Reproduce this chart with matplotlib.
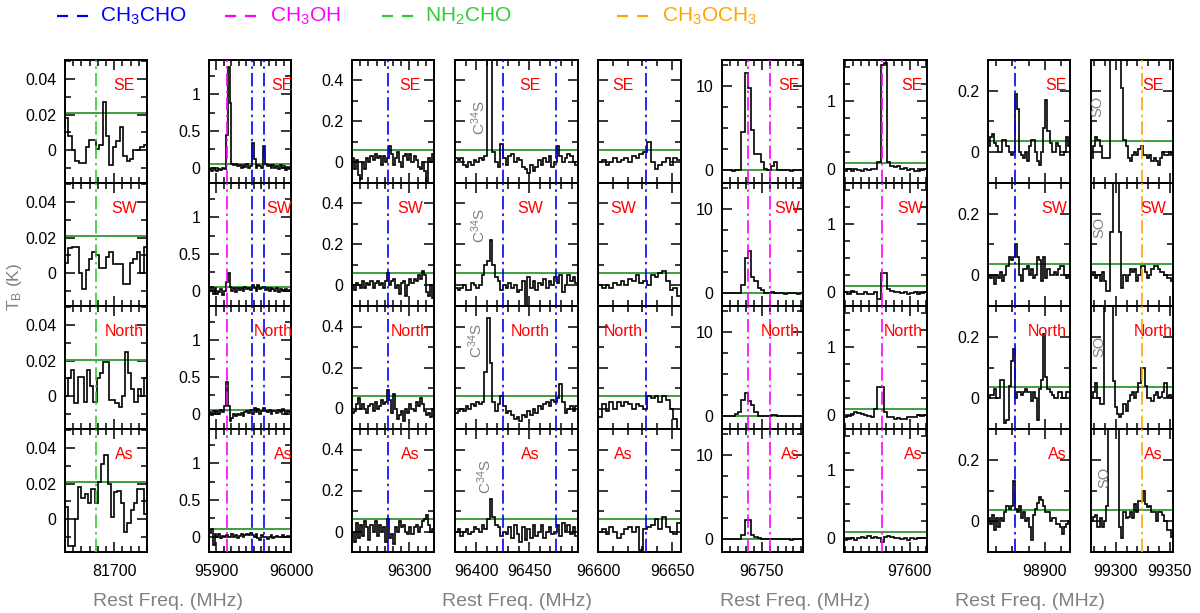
import numpy as np
import matplotlib
matplotlib.use("Agg")
import matplotlib.pyplot as plt
from matplotlib.ticker import MultipleLocator, FuncFormatter
from matplotlib.lines import Line2D

plt.rcParams['font.family'] = ['Liberation Sans', 'DejaVu Sans']
plt.rcParams['mathtext.fontset'] = 'custom'
plt.rcParams['mathtext.rm'] = 'Liberation Sans'
plt.rcParams['mathtext.it'] = 'Liberation Sans:italic'

regiones = ['SE', 'SW', 'North', 'As']

# ventanas de frecuencia (MHz) de cada columna
rango_x = [(81685, 81710), (95890, 96000), (96230, 96330), (96380, 96496),
           (96600, 96656), (96725, 96776), (97559.5, 97610.5),
           (98830, 98931), (99277, 99353)]
rango_y = [(-0.0183, 0.0506), (-0.21, 1.47), (-0.1, 0.5), (-0.1, 0.5),
           (-0.1, 0.5), (-1.5, 13.1), (-0.2, 1.6), (-0.1, 0.3), (-0.1, 0.3)]
mayor_x = [25, 100, 100, 50, 50, 50, 50, 100, 50]
menor_x = [2.5, 10, 10, 10, 10, 5, 5, 20, 10]
mayor_y = [0.02, 0.5, 0.2, 0.2, 0.2, 10, 1, 0.2, 0.2]
menor_y = [0.01, 0.25, 0.1, 0.1, 0.1, 2.5, 0.25, 0.1, 0.1]
con_etiqueta_y = [True, True, True, False, False, True, True, True, False]

# nivel de ruido (linea verde) por columna y region
rms = [[0.021, 0.021, 0.0205, 0.021],
       [0.046, 0.054, 0.045, 0.098],
       [0.062, 0.062, 0.062, 0.061],
       [0.062, 0.062, 0.062, 0.062],
       [0.062, 0.062, 0.062, 0.062],
       [0.05, 0.05, 0.05, 0.05],
       [0.096, 0.087, 0.097, 0.09],
       [0.036, 0.036, 0.036, 0.036],
       [0.036, 0.036, 0.036, 0.036]]

# lineas moleculares marcadas (MHz, especie)
lineas = [[(81694.5, 'NH2CHO')],
          [(95914.3, 'CH3OH'), (95947.4, 'CH3CHO'), (95963.5, 'CH3CHO')],
          [(96274.3, 'CH3CHO')],
          [(96425.6, 'CH3CHO'), (96475.5, 'CH3CHO')],
          [(96632.7, 'CH3CHO')],
          [(96741.4, 'CH3OH'), (96755.5, 'CH3OH')],
          [(97582.8, 'CH3OH')],
          [(98863.3, 'CH3CHO')],
          [(99324.4, 'CH3OCH3')]]

colores = {'CH3CHO': '#0000ff', 'CH3OH': '#ff00ff',
           'NH2CHO': '#33cc33', 'CH3OCH3': '#ffa500'}

# espectros (K), filas SE, SW, North, As
t_81700 = [
    [0.018, 0.008, 0.0, -0.006, -0.007, -0.007, 0.002, 0.006, 0.006, 0.001, 0.003, 0.027,
     0.008, -0.008, 0.002, 0.005, 0.013, -0.003, -0.006, -0.005, 0.0, 0.0, 0.002, 0.003],
    [0.006, 0.014, 0.015, 0.015, 0.0, -0.009, 0.002, 0.008, 0.012, 0.010, 0.003, 0.003,
     0.009, 0.012, 0.005, 0.005, 0.005, -0.006, -0.006, 0.006, 0.008, 0.012, 0.0, 0.015],
    [0.0, 0.01, 0.015, -0.004, 0.011, 0.011, -0.003, 0.015, 0.006, -0.003, 0.01, 0.013, 0.019,
     0.019, -0.002, -0.002, -0.004, -0.006, 0.0, 0.025, 0.013, 0.004, -0.003, 0.004, 0.0, 0.01],
    [0.007, -0.015, -0.015, 0.0, 0.018, 0.012, 0.014, 0.009, 0.017, 0.009, 0.021, 0.031, 0.036,
     0.02, 0.0015, 0.0155, 0.016, 0.009, -0.007, -0.002, 0.005, 0.009, 0.017, 0.017, 0.003]]

t_95950 = [
    [-0.02, -0.04, 0.0, -0.03, -0.05, -0.02, -0.03, 0.0, -0.02, 0.45, 1.37, 0.88, 0.05, 0.03,
     0.05, 0.02, 0.04, 0.0, 0.03, 0.01, 0.05, 0.0, 0.02, 0.33, 0.12, 0.0, 0.04, 0.02, 0.0, 0.3,
     0.05, 0.02, 0.04, -0.01, 0.03, 0.0, 0.02, -0.02, 0.03, -0.01, 0.02, -0.03, 0.01, -0.02],
    [0.0, 0.05, -0.05, 0.03, -0.04, -0.02, 0.02, -0.06, 0.0, 0.12, 0.24, 0.05, 0.0, 0.03,
     -0.02, 0.04, 0.01, 0.03, 0.0, 0.05, 0.02, 0.04, 0.01, 0.07, 0.03, 0.0, 0.08, 0.02, 0.04,
     0.05, 0.01, 0.03, -0.01, 0.04, 0.02, 0.0, 0.03, -0.02, 0.02, 0.01, -0.01, 0.02, 0.0, 0.01],
    [0.02, -0.02, 0.03, 0.0, 0.04, 0.0, 0.05, 0.02, 0.1, 0.43, 0.1, -0.1, -0.06, 0.0, -0.03,
     0.0, -0.02, 0.01, -0.03, 0.02, 0.04, 0.01, 0.05, 0.0, 0.08, 0.02, 0.06, 0.0, 0.03, 0.08,
     0.04, 0.02, 0.05, 0.0, 0.03, 0.04, 0.01, 0.05, 0.02, 0.06, 0.03, 0.0, 0.04, 0.02],
    [0.05, 0.1, -0.12, 0.04, 0.0, 0.03, -0.02, 0.01, 0.0, 0.02, 0.0, -0.01, 0.03, 0.0, 0.02,
     -0.02, 0.01, 0.03, 0.0, 0.02, 0.04, 0.02, 0.05, 0.02, 0.0, 0.03, -0.02, -0.04, 0.02, 0.0,
     -0.01, -0.03, 0.0, 0.02, -0.02, 0.0, 0.01, -0.01, 0.0, 0.02, -0.01, 0.0, 0.01, 0.0]]

t_96280 = [
    [0.02, -0.03, 0.01, -0.06, -0.08, 0.0, -0.03, 0.02, 0.0, 0.03, 0.01, 0.04, 0.02, 0.03,
     -0.01, 0.03, 0.0, 0.02, 0.08, 0.04, -0.01, 0.02, 0.05, 0.0, -0.02, 0.03, 0.04, 0.01, 0.04,
     0.0, 0.03, 0.01, -0.02, -0.03, 0.0, -0.04, -0.09, 0.02, 0.0, 0.04],
    [0.0, -0.02, 0.01, 0.0, -0.01, 0.02, -0.01, 0.01, 0.0, 0.02, -0.01, 0.01, 0.02, 0.0, 0.01,
     -0.01, 0.02, 0.06, 0.0, 0.02, 0.03, -0.01, 0.0, -0.04, 0.01, 0.02, -0.05, 0.0, 0.03, 0.01,
     0.03, 0.02, 0.05, 0.03, 0.07, 0.05, -0.03, -0.05, 0.0, -0.06],
    [-0.02, -0.01, 0.02, 0.05, 0.0, 0.02, 0.0, -0.02, 0.01, 0.02, -0.01, 0.03, 0.0, 0.01, 0.04,
     0.02, 0.03, 0.09, 0.04, -0.02, 0.07, 0.0, -0.05, -0.03, -0.01, -0.06, 0.0, -0.02, 0.02,
     0.0, -0.01, 0.03, 0.01, 0.05, 0.02, -0.01, -0.03, -0.02, -0.04, 0.0],
    [0.0, -0.05, 0.04, -0.03, 0.03, -0.02, 0.05, 0.02, -0.04, 0.03, 0.0, 0.05, -0.02, 0.03, 0.0,
     0.02, -0.05, 0.06, -0.03, -0.01, -0.06, 0.02, 0.0, 0.05, 0.02, 0.03, 0.0, -0.01, 0.02,
     -0.01, 0.02, 0.03, 0.0, 0.02, 0.05, 0.06, 0.08, 0.03, 0.0, 0.01]]

t_96440 = [
    [0.02, 0.01, 0.02, -0.01, -0.02, 0.0, -0.01, 0.01, 0.0, 0.02, 0.01, 0.03, 0.8, 1.2, 0.05,
     0.0, -0.02, 0.09, 0.02, -0.01, 0.03, 0.04, 0.0, 0.02, 0.01, -0.02, -0.03, -0.05, -0.01,
     -0.04, -0.02, 0.01, -0.01, 0.02, 0.0, 0.03, -0.02, 0.0, 0.08, 0.03, 0.0, 0.02, 0.04, 0.03,
     0.0, -0.01],
    [-0.01, -0.02, -0.01, 0.0, -0.02, -0.02, 0.01, 0.0, -0.01, 0.0, 0.05, 0.1, 0.12, 0.22, 0.1,
     0.04, 0.02, -0.02, 0.0, -0.01, 0.01, -0.01, 0.0, -0.03, -0.02, 0.02, -0.1, 0.04, -0.01,
     0.02, -0.02, 0.01, 0.0, 0.03, -0.01, 0.02, 0.0, 0.04, 0.01, 0.05, -0.03, 0.0, 0.05, 0.02,
     0.04, 0.01],
    [-0.02, -0.01, 0.0, -0.01, 0.01, 0.0, 0.02, 0.01, 0.03, 0.02, 0.03, 0.18, 0.44, 0.22, 0.03,
     -0.01, 0.02, 0.06, 0.01, -0.02, -0.01, -0.03, -0.05, -0.04, -0.06, -0.03, -0.04, -0.01,
     -0.03, 0.0, -0.02, 0.01, 0.0, 0.02, 0.03, 0.01, 0.04, 0.03, 0.05, 0.12, 0.03, -0.02, 0.0,
     0.01, -0.01, 0.01],
    [0.0, 0.01, -0.02, 0.0, 0.01, -0.01, 0.0, 0.02, 0.01, 0.0, 0.03, 0.01, 0.06, 0.16, 0.07,
     0.03, 0.02, -0.02, 0.0, -0.01, 0.02, -0.03, 0.03, -0.01, -0.05, 0.02, -0.04, 0.01, -0.03,
     0.03, -0.02, 0.0, 0.03, -0.03, 0.0, 0.02, -0.01, 0.0, 0.03, -0.02, 0.04, 0.0, 0.03, -0.01,
     0.02, -0.02]]

t_96630 = [
    [0.0, 0.01, -0.01, 0.0, 0.02, 0.0, 0.01, 0.02, 0.0, 0.03, 0.02, 0.04, 0.05, 0.1, 0.0,
     -0.03, -0.01, 0.0, 0.02, -0.01, 0.02, 0.01],
    [0.0, -0.01, 0.0, -0.01, 0.01, 0.0, 0.02, 0.0, 0.03, 0.02, 0.05, 0.01, 0.02, 0.0, 0.05,
     0.04, 0.06, 0.07, 0.02, -0.02, -0.01, -0.05],
    [-0.04, 0.02, -0.01, 0.03, 0.0, 0.03, 0.01, 0.03, 0.02, 0.0, 0.02, 0.01, 0.0, 0.06, 0.05,
     0.06, 0.03, 0.06, 0.04, 0.0, -0.05, -0.1],
    [0.0, 0.01, -0.01, 0.02, 0.0, -0.03, -0.01, 0.01, 0.02, 0.0, 0.02, -0.09, 0.01, 0.02, 0.03,
     0.06, 0.01, 0.07, 0.02, 0.0, -0.01, 0.04]]

t_96750 = [
    [0.0, 0.0, 0.05, -0.05, 0.0, 0.02, 4.6, 11.5, 9.8, 4.8, 2.0, 2.0, 1.0, 0.2, 0.0, 0.5, 1.0,
     0.1, 0.0, 0.05, 0.0, -0.05, 0.0, 0.0, 0.05],
    [0.0, 0.0, 0.0, 0.0, 0.0, 0.05, 1.0, 4.2, 5.0, 2.0, 1.5, 0.6, 0.4, 0.0, 0.1, 0.2, 0.1, 0.0,
     0.0, -0.05, 0.0, 0.0, 0.0, -0.05, 0.0],
    [0.0, 0.0, 0.0, 0.0, 0.3, 0.5, 2.0, 2.8, 1.8, 1.3, 0.5, 0.0, 0.1, 0.1, 0.1, 0.2, 0.2, 0.1,
     0.0, 0.0, 0.0, 0.0, 0.0, 0.0, 0.0],
    [0.0, 0.0, 0.0, 0.0, 0.0, 0.1, 0.5, 2.3, 2.3, 0.5, 0.3, 0.2, 0.1, 0.1, 0.0, 0.05, 0.0, 0.0,
     0.0, 0.0, 0.0, -0.02, 0.0, 0.0, 0.0]]

t_97580 = [
    [-0.02, 0.0, -0.02, 0.0, -0.01, -0.02, 0.0, -0.01, 0.0, 0.0, 0.1, 1.52, 1.55, 0.1, 0.05,
     0.03, 0.05, 0.0, 0.02, -0.01, 0.0, -0.03, -0.02, -0.01, 0.0],
    [0.0, -0.02, 0.02, 0.0, -0.03, -0.02, 0.0, -0.02, -0.03, 0.0, -0.1, 0.28, 0.28, 0.05, 0.02,
     0.01, 0.0, -0.01, 0.0, -0.02, -0.01, 0.0, -0.02, -0.01, 0.0],
    [-0.03, -0.01, 0.02, 0.05, 0.03, 0.02, 0.0, -0.01, -0.03, 0.1, 0.42, 0.42, 0.05, -0.02,
     -0.03, -0.05, -0.04, -0.06, -0.05, -0.03, -0.02, -0.03, 0.0, -0.01, 0.0],
    [-0.03, -0.01, 0.0, -0.02, 0.0, 0.02, 0.0, 0.03, 0.0, 0.02, 0.0, -0.06, 0.02, 0.03, 0.02,
     0.0, 0.01, -0.01, 0.0, -0.02, 0.0, -0.01, 0.0, 0.01, 0.0]]

t_98880 = [
    [0.02, 0.05, 0.06, 0.03, 0.02, 0.0, 0.0, 0.04, 0.04, 0.02, 0.0, -0.01, 0.0, 0.19, 0.14, 0.0,
     -0.01, -0.02, 0.0, -0.03, 0.02, 0.04, 0.04, 0.0, -0.03, -0.04, 0.0, 0.08, 0.17, 0.07, 0.03,
     0.0, 0.0, 0.03, 0.02, -0.01, -0.01, 0.0, 0.05, 0.02],
    [0.0, -0.01, 0.0, -0.03, 0.0, -0.01, 0.01, -0.02, 0.0, 0.03, 0.06, 0.05, 0.06, 0.1, 0.06,
     0.0, -0.02, 0.02, 0.02, 0.03, 0.0, 0.02, -0.01, 0.0, 0.06, 0.05, -0.02, 0.06, -0.01, 0.02,
     0.0, 0.0, 0.01, 0.0, 0.02, 0.03, 0.03, 0.0, -0.01, 0.0],
    [0.0, 0.01, 0.01, 0.03, 0.0, 0.0, 0.06, 0.06, -0.08, -0.07, 0.04, 0.12, 0.16, 0.0, 0.02,
     0.02, 0.01, 0.02, 0.03, 0.02, 0.02, -0.01, 0.02, 0.0, -0.07, 0.03, 0.06, 0.21, 0.07, 0.03,
     0.02, 0.01, 0.0, 0.0, 0.02, 0.02, 0.0, 0.0, 0.02, 0.02],
    [0.01, -0.01, 0.02, -0.03, 0.01, -0.02, 0.01, 0.0, 0.03, 0.05, 0.04, 0.05, 0.13, 0.04, 0.03,
     0.05, 0.01, 0.03, 0.0, 0.01, -0.02, -0.06, 0.02, 0.04, 0.06, 0.08, 0.07, 0.05, 0.03, 0.03,
     0.0, 0.01, 0.01, -0.01, -0.01, -0.02, -0.04, -0.02, -0.01, 0.0]]

t_99320 = [
    [-0.02, 0.02, 0.05, 0.04, 0.02, -0.02, -0.02, -0.02, -0.02, 0.6, 0.8, 0.9, 0.8, 0.5, 0.21,
     0.04, 0.02, -0.02, -0.03, -0.01, 0.0, -0.01, 0.01, 0.02, -0.01, -0.01, -0.02, -0.01, -0.03,
     -0.02, -0.03, -0.04, -0.02, 0.0, -0.01, -0.01, 0.0, -0.01],
    [0.0, 0.01, -0.01, 0.0, -0.02, 0.01, -0.02, -0.05, -0.05, 0.14, 0.5, 0.6, 0.5, 0.14, -0.04,
     0.0, -0.02, 0.0, 0.02, 0.01, 0.02, -0.02, 0.0, 0.03, 0.03, 0.01, -0.01, 0.0, 0.02, 0.03,
     0.03, 0.02, 0.01, 0.01, 0.0, -0.01, -0.01, -0.02],
    [0.0, 0.02, 0.05, 0.0, -0.02, -0.02, 0.5, 0.6, 0.7, 0.6, 0.055, -0.03, -0.05, -0.06, -0.05,
     -0.02, -0.04, -0.01, 0.01, 0.02, 0.0, 0.02, 0.05, 0.1, 0.1, 0.04, 0.0, 0.0, -0.01, 0.01,
     0.02, 0.0, 0.005, 0.02, 0.05, 0.005, 0.01, 0.0],
    [0.0, 0.015, 0.02, -0.02, 0.01, -0.02, 0.0, 0.05, 0.3, 0.7, 0.8, 0.6, 0.3, -0.02, -0.055,
     0.03, 0.01, 0.015, 0.03, 0.01, 0.055, 0.03, 0.065, 0.065, 0.1, 0.055, 0.045, 0.05, 0.03,
     0.03, 0.0, 0.03, 0.03, 0.02, 0.0, -0.03, -0.03, -0.05]]

espectros = [t_81700, t_95950, t_96280, t_96440, t_96630, t_96750, t_97580, t_98880, t_99320]

# posicion de las etiquetas de region (fraccion de eje, alineacion)
etiq_x = [(0.72, 'center'), (1.02, 'right'), (0.71, 'center'), (0.61, 'center'),
          (0.30, 'center'), (0.96, 'right'), (0.95, 'right'), (0.96, 'right'), (0.76, 'center')]

# etiquetas de otras especies
c34s_pos = [(0.19, 0.53), (0.19, 0.65), (0.17, 0.72), (0.24, 0.61)]
so_pos = [(0.08, 0.62), (0.10, 0.64), (0.10, 0.67), (0.16, 0.61)]

# geometria en pixeles
W, H = 1200, 613
columnas_px = [(65, 147), (209, 291), (352, 434), (455, 578), (598, 681),
               (722, 803), (844, 927), (988, 1070), (1091, 1173)]
arriba_px, alto_px = 60, 123

fig = plt.figure(figsize=(W / 100, H / 100), dpi=100)
gris = '#808080'
verde_rms = '#3f9f3f'
fmt = FuncFormatter(lambda v, p: f'{round(v, 6):g}')

for c, (x0p, x1p) in enumerate(columnas_px):
    for r in range(4):
        top = arriba_px + r * alto_px
        ax = fig.add_axes([x0p / W, 1 - (top + alto_px) / H, (x1p - x0p) / W, alto_px / H])
        xa, xb = rango_x[c]
        y = np.array(espectros[c][r])
        bordes = np.linspace(xa, xb, len(y) + 1)
        ax.stairs(y, bordes, baseline=None, color='black', lw=1.2, zorder=3)
        ax.axhline(rms[c][r], color=verde_rms, lw=1.4, zorder=2)
        for f, esp in lineas[c]:
            ax.axvline(f, color=colores[esp], lw=1.2, ls=(0, (8, 2.5, 1.5, 2.5)), zorder=4)
        ax.set_xlim(xa, xb)
        ax.set_ylim(*rango_y[c])
        ax.xaxis.set_major_locator(MultipleLocator(mayor_x[c]))
        ax.xaxis.set_minor_locator(MultipleLocator(menor_x[c]))
        ax.yaxis.set_major_locator(MultipleLocator(mayor_y[c]))
        ax.yaxis.set_minor_locator(MultipleLocator(menor_y[c]))
        ax.xaxis.set_major_formatter(fmt)
        ax.yaxis.set_major_formatter(fmt)
        ax.tick_params(which='both', direction='in', top=True, right=True, width=1.1)
        ax.tick_params(which='major', length=7, labelsize=11.5)
        ax.tick_params(which='minor', length=4)
        ax.tick_params(axis='x', pad=9)
        ax.tick_params(axis='y', pad=6)
        if r < 3:
            ax.tick_params(axis='x', labelbottom=False)
        if not con_etiqueta_y[c]:
            ax.tick_params(axis='y', labelleft=False)
        for s in ax.spines.values():
            s.set_linewidth(1.4)
        ex, ha = etiq_x[c]
        ax.text(ex, 0.79, regiones[r], transform=ax.transAxes, color='red',
                fontsize=11.5, ha=ha, va='center', zorder=5, clip_on=False)
        if c == 3:
            px, py = c34s_pos[r]
            ax.text(px, py, r'C$^{34}$S', transform=ax.transAxes, color=gris,
                    fontsize=11, rotation=90, ha='center', va='center')
        if c == 8:
            px, py = so_pos[r]
            ax.text(px, py, 'SO', transform=ax.transAxes, color=gris,
                    fontsize=10.5, rotation=90, ha='center', va='center')

# ejes compartidos
fig.text(14 / W, 1 - 287 / H, r'T$_\mathrm{B}$ (K)', color=gris, fontsize=12.5, rotation=90,
         ha='center', va='center')
for xc in [168, 517, 795, 1030]:
    fig.text(xc / W, 1 - 601 / H, 'Rest Freq. (MHz)', color=gris, fontsize=14,
             ha='center', va='center')

# leyenda de especies
leyenda = [(r'CH$_3$CHO', 'CH3CHO', 57, 100), (r'CH$_3$OH', 'CH3OH', 225, 270),
           (r'NH$_2$CHO', 'NH2CHO', 382, 425), (r'CH$_3$OCH$_3$', 'CH3OCH3', 617, 662)]
yl = 1 - 16 / H
for txt, esp, xd, xt in leyenda:
    fig.add_artist(Line2D([xd / W, (xd + 32) / W], [yl, yl], transform=fig.transFigure,
                          color=colores[esp], lw=1.6, ls=(0, (5, 4))))
    fig.text(xt / W, yl, txt, color=colores[esp], fontsize=15, ha='left', va='center')

fig.savefig('out.png', dpi=100)
